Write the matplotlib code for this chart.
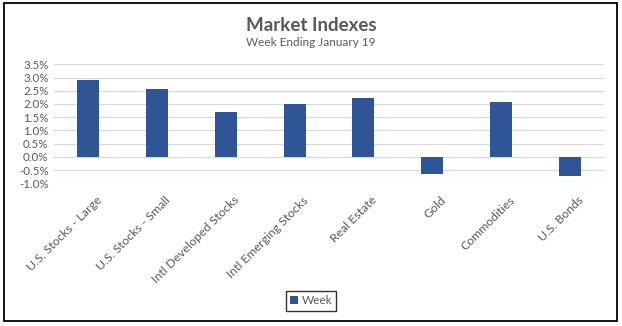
import numpy as np
import matplotlib
matplotlib.use("Agg")
import matplotlib.pyplot as plt
import matplotlib.transforms as mtransforms
from matplotlib.patches import Rectangle
from matplotlib.ticker import FuncFormatter, MultipleLocator

plt.rcParams['font.family'] = ['Lato', 'DejaVu Sans']

# weekly returns, percent
categories = ['U.S. Stocks - Large', 'U.S. Stocks - Small', 'Intl Developed Stocks',
              'Intl Emerging Stocks', 'Real Estate', 'Gold', 'Commodities', 'U.S. Bonds']
week = [2.90, 2.55, 1.70, 2.01, 2.24, -0.64, 2.09, -0.71]

grey = '#595959'
blue = '#2F5597'

fig = plt.figure(figsize=(6.22, 3.26), dpi=100)
ax = fig.add_axes([0.0868, 0.4377, 0.8842, 0.3651])

x = np.arange(len(categories))
ax.bar(x, week, width=0.32, color=blue, label='Week', zorder=3)

ax.set_xlim(-0.5, len(categories) - 0.5)
ax.set_ylim(-1.0, 3.5)
ax.yaxis.set_major_locator(MultipleLocator(0.5))
ax.yaxis.set_major_formatter(FuncFormatter(lambda v, p: f'{v:.1f}%'))
ax.grid(axis='y', color='#d9d9d9', linewidth=0.9, zorder=0)
for s in ax.spines.values():
    s.set_visible(False)
ax.tick_params(length=0, labelsize=8.3, labelcolor=grey)
ax.tick_params(axis='y', pad=4)
ax.set_xticks(x)
ax.set_xticklabels(categories, rotation=45, ha='right', rotation_mode='anchor',
                   fontsize=8.8)
ax.tick_params(axis='x', pad=8)
# nudge rotated labels so their ends sit under the bars
shift = mtransforms.ScaledTranslation(0.08, 0, fig.dpi_scale_trans)
for lbl in ax.get_xticklabels():
    lbl.set_transform(lbl.get_transform() + shift)

fig.text(0.5, 0.906, 'Market Indexes', ha='center', va='baseline',
         fontsize=13.5, fontweight='bold', color=grey)
fig.text(0.5, 0.859, 'Week Ending January 19', ha='center', va='baseline',
         fontsize=8.5, color=grey)

leg = fig.legend(loc='center', bbox_to_anchor=(0.5, 0.077), frameon=True,
                 fontsize=8.5, handlelength=0.7, handleheight=0.7, handletextpad=0.3,
                 borderpad=0.35, fancybox=False, borderaxespad=0)
leg.get_frame().set_edgecolor('black')
leg.get_frame().set_linewidth(1.0)
for t in leg.get_texts():
    t.set_color(grey)

# outer chart border
fig.patches.append(Rectangle((4 / 622, 5 / 326), 613 / 622, 318 / 326,
                             transform=fig.transFigure, fill=False,
                             edgecolor='black', linewidth=1.3))

fig.savefig('out.png', dpi=100)
